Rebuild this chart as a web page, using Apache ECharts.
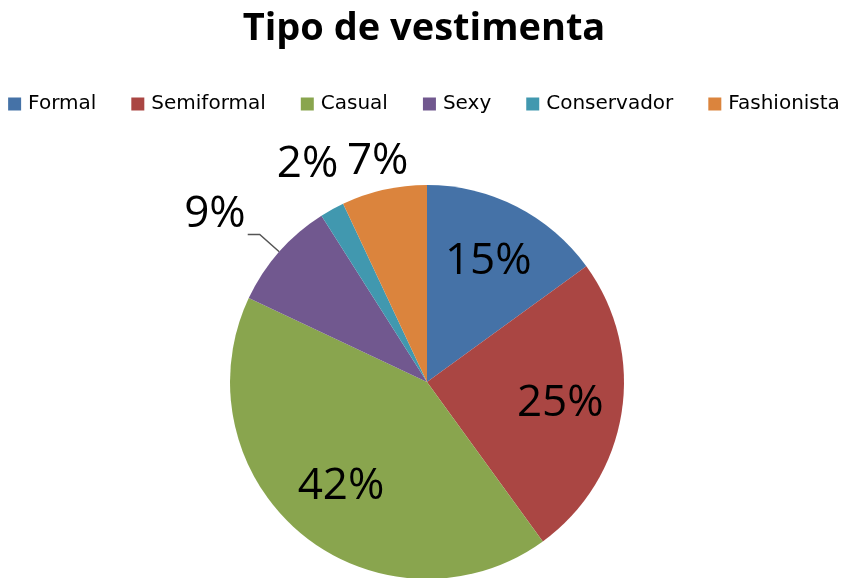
<!DOCTYPE html>
<html>
<head>
<meta charset="utf-8">
<script src="https://cdn.jsdelivr.net/npm/echarts@6/dist/echarts.min.js"></script>
<style>
  html, body { margin: 0; padding: 0; background: #fff; }
  #chart { width: 848px; height: 578px; }
</style>
</head>
<body>
<div id="chart"></div>
<script>
// datos
const categorias = ['Formal', 'Semiformal', 'Casual', 'Sexy', 'Conservador', 'Fashionista']
const porcentajes = [15, 25, 42, 9, 2, 7]
const colores = ['#4572A7', '#AA4643', '#89A54E', '#71588F', '#4198AF', '#DB843D']

const CX = 427
const CY = 382
const R = 197
const fuente = '"Open Sans", "DejaVu Sans", sans-serif'

// etiquetas dentro de la tarta (15, 25, 42) y fuera (9, 2, 7)
const dentro = ['Formal', 'Semiformal', 'Casual']
// distancia radial de las etiquetas sin linea (2% y 7%)
const distFuera = { Conservador: 248, Fashionista: 226 }

const total = porcentajes.reduce((a, b) => a + b, 0)
const angMedio = {}
let acum = 0
categorias.forEach((c, i) => {
    const mid = acum + porcentajes[i] / 2
    angMedio[c] = mid / total * Math.PI * 2
    acum += porcentajes[i]
})

const datos = categorias.map((name, i) => {
    const item = { name, value: porcentajes[i] }
    if (name === 'Sexy') {
        item.label = { position: 'outside' }
        item.labelLine = { show: true }
    } else {
        item.label = { position: dentro.includes(name) ? 'inside' : 'outside' }
        item.labelLine = { show: false }
    }
    return item
})

const chart = echarts.init(document.getElementById('chart'))
chart.setOption({
    color: colores,
    animation: false,
    title: {
        text: 'Tipo de vestimenta',
        left: 'center',
        top: 5,
        textStyle: { fontFamily: fuente, fontSize: 38, fontWeight: 'bold', color: '#000' }
    },
    legend: {
        data: categorias,
        top: 89,
        left: 'center',
        icon: 'rect',
        itemWidth: 13,
        itemHeight: 13,
        itemGap: 35,
        textStyle: {
            fontFamily: '"DejaVu Sans", sans-serif',
            fontSize: 20,
            color: '#000',
            padding: [0, 0, 0, 2]
        }
    },
    series: [{
        type: 'pie',
        center: [CX, CY],
        radius: R,
        startAngle: 90,
        clockwise: true,
        silent: true,
        avoidLabelOverlap: false,
        itemStyle: { borderWidth: 0 },
        label: {
            formatter: p => p.value + '%',
            fontFamily: fuente,
            fontSize: 44,
            color: '#000'
        },
        labelLine: { lineStyle: { color: '#555', width: 1.5 } },
        labelLayout: params => {
            const name = categorias[params.dataIndex]
            const a = angMedio[name]
            const ux = Math.sin(a)
            const uy = -Math.cos(a)
            if (name === 'Sexy') {
                const p0 = [CX + ux * R, CY + uy * R]
                const p1 = [CX + ux * (R + 26), CY + uy * (R + 26)]
                const p2 = [p1[0] - 12, p1[1]]
                return {
                    x: p2[0] - 2,
                    y: p2[1] - 20,
                    align: 'right',
                    verticalAlign: 'middle',
                    labelLinePoints: [p0, p1, p2]
                }
            }
            const d = dentro.includes(name) ? R * 0.685 : distFuera[name]
            return {
                x: CX + ux * d,
                y: CY + uy * d,
                align: 'center',
                verticalAlign: 'middle'
            }
        },
        data: datos
    }]
})
</script>
</body>
</html>
